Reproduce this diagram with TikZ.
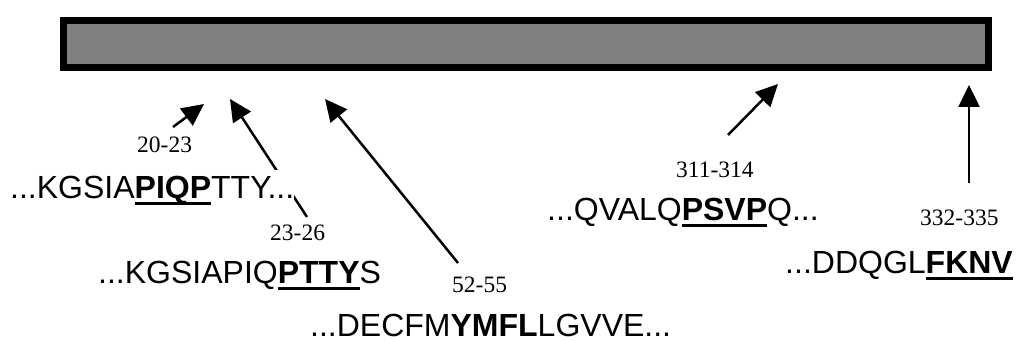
\documentclass[tikz,border=0pt]{standalone}
\usepackage{fontspec}
\setmainfont{Liberation Sans}
\newfontfamily\labelfont{Liberation Serif}
\usetikzlibrary{arrows.meta}
\newcommand\myul[1]{\setbox0\hbox{\bfseries #1}\rlap{\rule[-6.5pt]{\wd0}{3pt}}\box0}
\tikzset{
  seq/.style={font=\fontsize{32}{36}\selectfont, inner sep=0pt, fill=white, text height=28pt, text depth=9pt},
  lab/.style={font=\labelfont\fontsize{23.5}{26}\selectfont, inner sep=0pt},
  arr/.style={line width=2.5pt, -{Triangle[length=22pt,width=21pt]}},
  bar/.style={line width=7pt, draw=black, fill=gray}
}
\begin{document}
\begin{tikzpicture}[x=1pt,y=-1pt]
\useasboundingbox (0,0) rectangle (1016,342);
\node[bar, minimum width=925pt, minimum height=47pt, inner sep=0pt, anchor=north west] (bar) at (59.5,17.5) {};
% labels
\node[lab, anchor=base west] (l1) at (137,152) {20-23};
\node[lab, anchor=base west] (l2) at (270,240) {23-26};
\node[lab, anchor=base west] (l3) at (452,292) {52-55};
\node[lab, anchor=base west] (l4) at (676,177) {311-314};
\node[lab, anchor=base west] (l5) at (920,225) {332-335};
% arrow ends
\coordinate (t1) at (173,127); \coordinate (h1) at (204,104);
\coordinate (t2) at (307,217); \coordinate (h2) at (230,99);
\coordinate (t3) at (458,263); \coordinate (h3) at (325,99);
\coordinate (t4) at (728,135); \coordinate (h4) at (778,84);
\coordinate (t5) at (969,183); \coordinate (h5) at (969,85);
\draw[arr] (t1) -- (h1);
\draw[arr] (t2) -- (h2);
\draw[arr] (t3) -- (h3);
\draw[arr] (t4) -- (h4);
\draw[arr] (t5) -- (h5);
% sequences
\node[seq, anchor=base west] (s1) at (10,198) {...KGSIA\myul{PIQP}TTY...};
\node[seq, anchor=base west] (s2) at (98,283) {...KGSIAPIQ\myul{PTTY}S};
\node[seq, anchor=base west] (s3) at (310,336) {...DECFM{\bfseries YMFL}LGVVE...};
\node[seq, anchor=base west] (s4) at (547,220) {...QVALQ\myul{PSVP}Q...};
\node[seq, anchor=base east] (s5) at (1013,273) {...DDQGL\myul{FKNV}};
\end{tikzpicture}
\end{document}
